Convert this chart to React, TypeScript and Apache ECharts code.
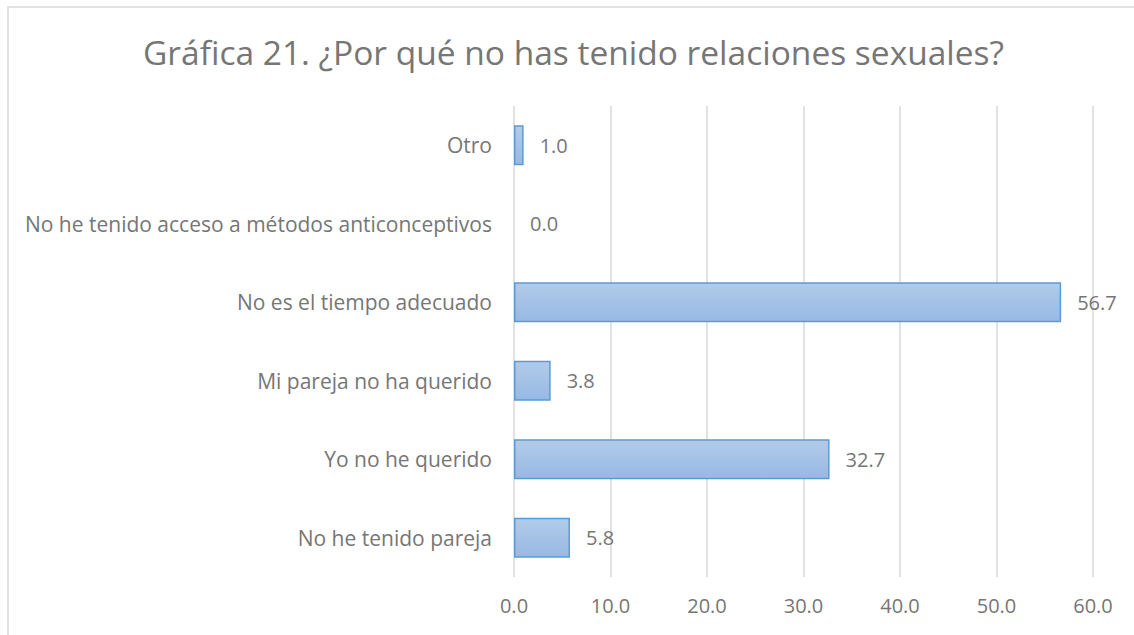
import React, { useEffect, useRef } from "react";
import * as echarts from "echarts";

const titleText = "Gráfica 21. ¿Por qué no has tenido relaciones sexuales?";
const categories = [
  "No he tenido pareja",
  "Yo no he querido",
  "Mi pareja no ha querido",
  "No es el tiempo adecuado",
  "No he tenido acceso a métodos anticonceptivos",
  "Otro",
];
const values = [5.8, 32.7, 3.8, 56.7, 0.0, 1.0];
const axisMin = 0;
const axisMax = 60;
const axisInterval = 10;

export default function App() {
  const ref = useRef<HTMLDivElement>(null);
  useEffect(() => {
    if (!ref.current) return;
    const chart = echarts.init(ref.current, null, { renderer: "svg" });
    const font = "'Open Sans', sans-serif";
    const textColor = "#767676";
    chart.setOption({
      animation: false,
      backgroundColor: "#ffffff",
      textStyle: { fontFamily: font },
      title: {
        text: titleText,
        left: 138,
        top: 30,
        textStyle: { fontFamily: font, fontSize: 33.5, fontWeight: "normal", color: textColor },
      },
      graphic: [
        {
          type: "rect",
          shape: { x: 8, y: 7, width: 1200, height: 700 },
          style: { fill: "none", stroke: "#d9d9d9", lineWidth: 1.5 },
          silent: true,
          z: -1,
        },
      ],
      grid: { left: 514, right: 41, top: 106, bottom: 58, containLabel: false },
      xAxis: {
        type: "value",
        min: axisMin,
        max: axisMax,
        interval: axisInterval,
        axisLine: { show: false },
        axisTick: { show: false },
        splitLine: { show: true, lineStyle: { color: "#d9d9d9", width: 1.5 } },
        axisLabel: {
          color: textColor,
          fontSize: 20,
          margin: 18,
          fontFamily: font,
          formatter: (v: number) => v.toFixed(1),
        },
      },
      yAxis: {
        type: "category",
        data: categories,
        axisLine: { show: false },
        axisTick: { show: false },
        axisLabel: { color: textColor, fontSize: 21, margin: 22, fontFamily: font },
      },
      series: [
        {
          type: "bar",
          data: values.map((v) => ({
            value: v,
            itemStyle: v === 0 ? { borderWidth: 0 } : undefined,
          })),
          barCategoryGap: "49%",
          itemStyle: {
            color: new echarts.graphic.LinearGradient(0, 0, 0, 1, [
              { offset: 0, color: "#b3cbe9" },
              { offset: 1, color: "#96b9e4" },
            ]),
            borderColor: "#5b9bd5",
            borderWidth: 1.5,
          },
          label: {
            show: true,
            position: "right",
            distance: 16,
            color: textColor,
            fontSize: 20,
            fontFamily: font,
            formatter: (p: any) => Number(p.value).toFixed(1),
          },
        },
      ],
    });
    return () => chart.dispose();
  }, []);
  return (
    <div
      ref={ref}
      style={{ position: "fixed", left: 0, top: 0, width: 1134, height: 635 }}
    />
  );
}
